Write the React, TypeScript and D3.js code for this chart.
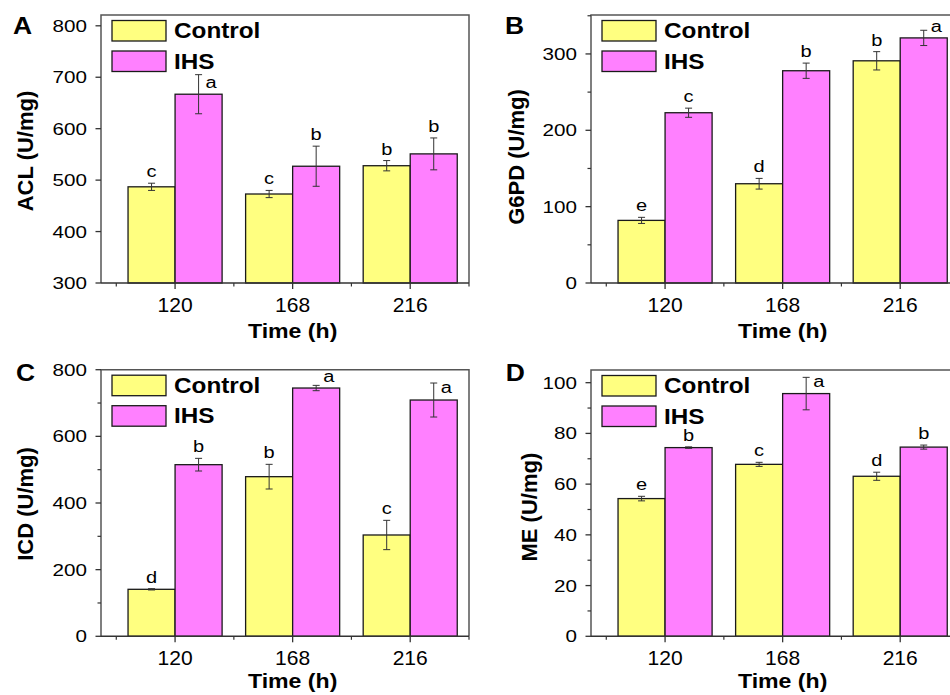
import React from "react";
import * as d3 from "d3";

// categories and series
const times = ["120", "168", "216"];
const series = ["Control", "IHS"];
const colors = ["#ffff80", "#ff80ff"];

// A - ACL
const aclMean = [[487, 473, 528], [667, 527, 551]];
const aclErr = [[7, 7, 10], [38, 39, 31]];
const aclLetters = [["c", "c", "b"], ["a", "b", "b"]];
const aclTicks = [300, 400, 500, 600, 700, 800];

// B - G6PD
const g6pdMean = [[82, 130, 291], [223, 278, 321]];
const g6pdErr = [[4, 7, 12], [6, 10, 10]];
const g6pdLetters = [["e", "d", "b"], ["c", "b", "a"]];
const g6pdTicks = [0, 100, 200, 300];

// C - ICD
const icdMean = [[141, 479, 304], [515, 745, 709]];
const icdErr = [[2, 37, 44], [19, 8, 51]];
const icdLetters = [["d", "b", "c"], ["b", "a", "a"]];
const icdTicks = [0, 200, 400, 600, 800];

// D - ME
const meMean = [[54.3, 67.8, 63.1], [74.4, 95.7, 74.6]];
const meErr = [[0.9, 0.8, 1.6], [0.3, 6.4, 0.8]];
const meLetters = [["e", "c", "d"], ["b", "a", "b"]];
const meTicks = [0, 20, 40, 60, 80, 100];

const panels = [
  { key: "A", title: "ACL (U/mg)", mean: aclMean, err: aclErr, letters: aclLetters, ticks: aclTicks, domain: [300, 821], minor: 0 },
  { key: "B", title: "G6PD (U/mg)", mean: g6pdMean, err: g6pdErr, letters: g6pdLetters, ticks: g6pdTicks, domain: [0, 351], minor: 50 },
  { key: "C", title: "ICD (U/mg)", mean: icdMean, err: icdErr, letters: icdLetters, ticks: icdTicks, domain: [0, 800], minor: 100 },
  { key: "D", title: "ME (U/mg)", mean: meMean, err: meErr, letters: meLetters, ticks: meTicks, domain: [0, 105], minor: 10 },
];

// where each panel sits; side = letters moved right of the error bar [series, cat, dy]
const layout = [
  { left: 101, top: 15, bottom: 283, titleGap: 68, titleDy: 2, xtGap: 55, lx: 13, ly: 34, side: [[1, 0, 13]] },
  { left: 591, top: 15, bottom: 283, titleGap: 67, titleDy: 8, xtGap: 55, lx: 505, ly: 33.5, side: [[1, 2, 2]] },
  { left: 101, top: 369.7, bottom: 636.3, titleGap: 68, titleDy: 1, xtGap: 52, lx: 16, ly: 381, side: [[1, 1, -3], [1, 2, 10]] },
  { left: 591, top: 370, bottom: 636.3, titleGap: 54, titleDy: 4, xtGap: 52, lx: 505.7, ly: 381, side: [[1, 1, 10]] },
];

const W = 368;
const FONT = "'Liberation Sans', Arial, sans-serif";

const st = (x, y, sx) => `translate(${x},${y}) scale(${sx},1)`;

function Panel({ p, l }) {
  const x = d3.scaleLinear().domain([-0.63, 2.5]).range([l.left, l.left + W]);
  const y = d3.scaleLinear().domain(p.domain).range([l.bottom, l.top]);
  const bw = x(0.4) - x(0);
  const minorX = [-0.5, 0.5, 1.5, 2.5];
  const minorY = p.minor ? d3.range(p.domain[0] + p.minor, p.domain[1], p.minor * 2) : [];
  const right = Math.min(l.left + W, 960);
  const midY = (l.top + l.bottom) / 2;

  return (
    <g>
      <text transform={st(l.lx, l.ly, 1.15)} fontSize={23} fontWeight="bold">{p.key}</text>

      {/* bars */}
      {series.map((s, si) =>
        times.map((t, ti) => {
          const v = p.mean[si][ti];
          const x0 = si === 0 ? x(ti - 0.4) : x(ti);
          return (
            <rect key={s + t} x={x0} y={y(v)} width={bw} height={l.bottom - y(v)}
              fill={colors[si]} stroke="#1a1a1a" strokeWidth={1.3} />
          );
        })
      )}

      {/* error bars + letters */}
      {series.map((s, si) =>
        times.map((t, ti) => {
          const v = p.mean[si][ti];
          const e = p.err[si][ti];
          const cx = si === 0 ? x(ti - 0.2) : x(ti + 0.2);
          const yt = y(v + e);
          const yb = y(v - e);
          const sd = l.side.find((d) => d[0] === si && d[1] === ti);
          return (
            <g key={"e" + s + t} stroke="#333" strokeWidth={1}>
              <line x1={cx} x2={cx} y1={yt} y2={yb} />
              <line x1={cx - 3.5} x2={cx + 3.5} y1={yt} y2={yt} />
              <line x1={cx - 3.5} x2={cx + 3.5} y1={yb} y2={yb} />
              {sd ? (
                <text transform={st(cx + 7, yt + sd[2], 1.25)} fontSize={16} stroke="none" fill="#000">
                  {p.letters[si][ti]}
                </text>
              ) : (
                <text transform={st(cx, yt - 6, 1.25)} fontSize={16} textAnchor="middle" stroke="none" fill="#000">
                  {p.letters[si][ti]}
                </text>
              )}
            </g>
          );
        })
      )}

      {/* frame */}
      <path d={`M${l.left},${l.bottom}V${l.top}H${right}V${l.bottom}`} fill="none" stroke="#555" strokeWidth={1.5} />
      <line x1={l.left} x2={right} y1={l.bottom} y2={l.bottom} stroke="#333" strokeWidth={1.5} />

      {/* x axis */}
      {times.map((t, ti) => (
        <g key={"xt" + t}>
          <line x1={x(ti)} x2={x(ti)} y1={l.bottom} y2={l.bottom + 6} stroke="#333" strokeWidth={1.3} />
          <text transform={st(x(ti), l.bottom + 29, 1.08)} fontSize={19.5} textAnchor="middle">{t}</text>
        </g>
      ))}
      {minorX.map((m) => (
        <line key={"mx" + m} x1={x(m)} x2={x(m)} y1={l.bottom} y2={l.bottom + 3.5} stroke="#333" strokeWidth={1.2} />
      ))}
      <text transform={st(x(1), l.bottom + l.xtGap, 1.1)} fontSize={21} fontWeight="bold" textAnchor="middle">Time (h)</text>

      {/* y axis */}
      {p.ticks.map((v) => (
        <g key={"yt" + v}>
          <line x1={l.left - 5.5} x2={l.left} y1={y(v)} y2={y(v)} stroke="#333" strokeWidth={1.3} />
          <text transform={st(l.left - 14, y(v) + 6, 1.25)} fontSize={16.5} textAnchor="end">{v}</text>
        </g>
      ))}
      {minorY.map((v) => (
        <line key={"my" + v} x1={l.left - 3.5} x2={l.left} y1={y(v)} y2={y(v)} stroke="#333" strokeWidth={1.2} />
      ))}
      <text transform={`translate(${l.left - l.titleGap},${midY + l.titleDy}) rotate(-90)`}
        fontSize={22} fontWeight="bold" textAnchor="middle">{p.title}</text>

      {/* legend */}
      {series.map((s, si) => {
        const bx = l.left + 11;
        const by = l.top + 5.5 + si * 30.5;
        return (
          <g key={"lg" + s}>
            <rect x={bx} y={by} width={54} height={20.5} fill={colors[si]} stroke="#1a1a1a" strokeWidth={1.3} />
            <text transform={st(bx + 62, by + 17.5, 1.08)} fontSize={22.5} fontWeight="bold">{s}</text>
          </g>
        );
      })}
    </g>
  );
}

export default function App() {
  return (
    <div style={{ position: "absolute", left: 0, top: 0 }}>
      <svg width={950} height={695} fontFamily={FONT} style={{ display: "block", background: "#fff" }}>
        {panels.map((p, i) => (
          <Panel key={p.key} p={p} l={layout[i]} />
        ))}
      </svg>
    </div>
  );
}
